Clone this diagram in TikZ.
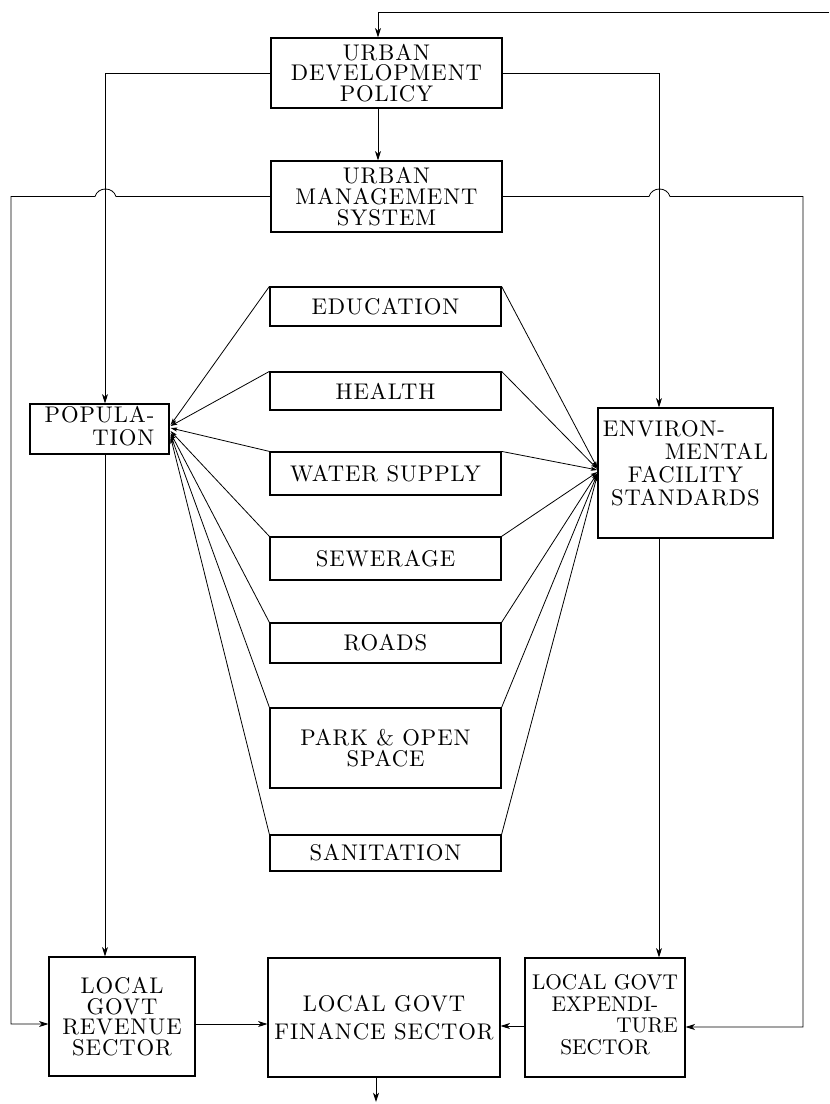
\documentclass[tikz,border=0pt]{standalone}
\usepackage{fontspec}
\usetikzlibrary{arrows.meta,calc}
\newfontfamily\lmtenls{lmroman10-regular.otf}[LetterSpace=4]
\newfontfamily\lmten{lmroman10-regular.otf}
\newcommand{\boxfont}{\lmtenls\fontsize{17}{15.5}\selectfont}
\newcommand{\tightfont}{\lmten\fontsize{16}{16}\selectfont}
\begin{document}
\begin{tikzpicture}[x=0.75pt,y=-0.75pt,
  bx/.style 2 args={draw,line width=0.9pt,minimum width=#1*0.75pt,minimum height=#2*0.75pt,inner sep=2pt,align=center,font=\boxfont},
  ln/.style={line width=0.6pt},
  arr/.style={ln,-{Stealth[length=7pt,width=4.5pt,inset=2pt]}},
  tip/.style={ln,-{Stealth[length=5pt,width=3pt,inset=1pt]}}]
\useasboundingbox (0,0) rectangle (829,1104);

% nodes
\node[bx={231}{70}] (udp) at (386.5,73) {URBAN\\DEVELOPMENT\\POLICY};
\node[bx={231}{71}] (ums) at (386.5,196.5) {URBAN\\MANAGEMENT\\SYSTEM};
\node[bx={139}{44}] (pop) at (99.5,429) {\begin{tabular}{@{}l@{}}POPULA-\\ \hfill TION\end{tabular}};
\node[bx={175}{130}] (env) at (685.5,473) {\fontsize{17}{16.5}\selectfont\begin{tabular}{@{}c@{}}\makebox[124pt][l]{ENVIRON-}\\ \makebox[124pt][r]{MENTAL}\\ FACILITY\\ STANDARDS\\[10pt]\end{tabular}};
\node[bx={231}{39}] (edu) at (385.5,306.5) {EDUCATION};
\node[bx={231}{38}] (hea) at (385.5,391) {HEALTH};
\node[bx={231}{43}] (wat) at (385.5,473.5) {WATER SUPPLY};
\node[bx={231}{43}] (sew) at (385.5,558.5) {SEWERAGE};
\node[bx={231}{40}] (roa) at (385.5,643) {ROADS};
\node[bx={231}{80}] (par) at (385.5,748) {PARK \& OPEN\\SPACE};
\node[bx={231}{36}] (san) at (385.5,853) {SANITATION};
\node[bx={146}{119}] (lgr) at (122,1016.5) {LOCAL\\GOVT\\REVENUE\\SECTOR};
\node[bx={232}{119}] (lgf) at (384,1017.5) {LOCAL GOVT\\[6pt]FINANCE SECTOR};
\node[bx={160}{119},font=\tightfont] (lge) at (605,1017.5) {\begin{tabular}{@{}c@{}}LOCAL GOVT\\ EXPENDI-\hfill\\ \hfill TURE\\ SECTOR\hspace{10pt}\end{tabular}};

% coordinates
\coordinate (topR) at (829,12);
\coordinate (tx) at (378,12);
\coordinate (pl) at (105,0);
\coordinate (er) at (659,0);
\coordinate (lyl) at (11,1024);
\coordinate (lyr) at (803,1027);
\coordinate (ly) at (0,1024);
\coordinate (ry) at (0,1026);
\coordinate (bot) at (376,1102);

% top feedback
\draw[arr] (topR) -- (tx) -- (tx |- udp.north);
\draw[arr] (udp.south -| tx) -- (ums.north -| tx);

% policy to population and standards
\draw[arr] (udp.west) -| (pl |- pop.north);
\draw[arr] (udp.east) -| (er |- env.north);

% management system to revenue / expenditure (with jumps)
\draw[arr] (ums.west) -- (116,196.5) .. controls (113,186.5) and (98,186.5) .. (95,196.5)
  -- (11,196.5) -- (lyl) -- (lyl -| lgr.west);
\draw[arr] (ums.east) -- (649,196.5) .. controls (652,186.5) and (667,186.5) .. (670,196.5)
  -- (803,196.5) -- (lyr) -- (lyr -| lge.east);

% population and standards down
\draw[arr] (pl |- pop.south) -- (pl |- lgr.north);
\draw[arr] (er |- env.south) -- (er |- lge.north);

% bottom row
\draw[arr] (lgr.east |- ly) -- (lgf.west |- ly);
\draw[arr] (lge.west |- ry) -- (lgf.east |- ry);
\draw[arr] (lgf.south -| bot) -- (bot);

% fan to population
\coordinate (p1) at ($(pop.east)+(1,-4)$);
\coordinate (p2) at ($(pop.east)+(1,-3)$);
\coordinate (p3) at ($(pop.east)+(1,-1)$);
\coordinate (p4) at ($(pop.east)+(1,2)$);
\coordinate (p5) at ($(pop.east)+(1,4)$);
\coordinate (p6) at ($(pop.east)+(1,6)$);
\coordinate (p7) at ($(pop.east)+(1,8)$);
\draw[tip] (edu.north west) -- (p1);
\draw[tip] (hea.north west) -- (p2);
\draw[tip] (wat.north west) -- (p3);
\draw[tip] (sew.north west) -- (p4);
\draw[tip] (roa.north west) -- (p5);
\draw[tip] (par.north west) -- (p6);
\draw[tip] (san.north west) -- (p7);

% fan to standards
\coordinate (e1) at ($(env.west)+(0,-5)$);
\coordinate (e2) at ($(env.west)+(0,-4)$);
\coordinate (e3) at ($(env.west)+(0,-3)$);
\coordinate (e4) at ($(env.west)+(0,-1)$);
\coordinate (e5) at ($(env.west)+(0,0)$);
\coordinate (e6) at ($(env.west)+(0,1)$);
\coordinate (e7) at ($(env.west)+(0,2)$);
\draw[tip] (edu.north east) -- (e1);
\draw[tip] (hea.north east) -- (e2);
\draw[tip] (wat.north east) -- (e3);
\draw[tip] (sew.north east) -- (e4);
\draw[tip] (roa.north east) -- (e5);
\draw[tip] (par.north east) -- (e6);
\draw[tip] (san.north east) -- (e7);
\end{tikzpicture}
\end{document}
